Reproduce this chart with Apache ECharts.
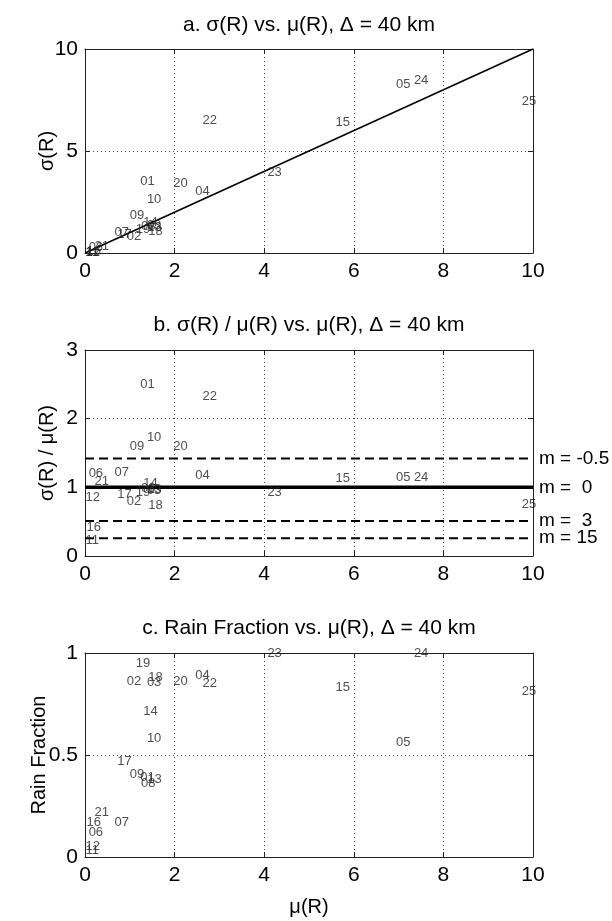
<!DOCTYPE html>
<html><head><meta charset="utf-8">
<script src="https://cdn.jsdelivr.net/npm/echarts@6/dist/echarts.min.js"></script>
<style>html,body{margin:0;padding:0;background:#fff}#c{width:612px;height:921px}</style>
</head><body><div id="c"></div>
<script>
// ---- data ----
const caseIds = ['01','02','03','04','05','06','07','08','09','10','11','12','13','14','15','16','17','18','19','20','21','22','23','24','25'];
const mu = [1.22, 0.92, 1.37, 2.45, 6.93, 0.07, 0.65, 1.24, 0.99, 1.37, 0.00, 0.00, 1.38, 1.29, 5.58, 0.02, 0.71, 1.40, 1.12, 1.96, 0.20, 2.61, 4.06, 7.33, 9.74];
const sigma = [3.52, 0.82, 1.35, 3.00, 8.27, 0.25, 1.03, 1.30, 1.82, 2.62, 0.02, 0.05, 1.25, 1.50, 6.42, 0.10, 0.90, 1.07, 1.15, 3.41, 0.30, 6.48, 3.93, 8.48, 7.41];
const sigmaOverMu = [2.50, 0.79, 0.95, 1.17, 1.14, 1.20, 1.22, 0.98, 1.60, 1.73, 0.22, 0.85, 0.97, 1.05, 1.13, 0.42, 0.90, 0.74, 0.93, 1.60, 1.08, 2.33, 0.92, 1.14, 0.75];
const rainFraction = [0.39, 0.86, 0.855, 0.89, 0.56, 0.12, 0.17, 0.36, 0.405, 0.58, 0.03, 0.05, 0.38, 0.715, 0.83, 0.17, 0.47, 0.88, 0.95, 0.86, 0.22, 0.85, 1.00, 1.00, 0.81];
const refLineX = [0, 10];               // sigma = mu reference line
const mLabels = ['m = -0.5', 'm =  0', 'm =  3', 'm = 15'];
const mRatios = [1.42, 1.00, 0.51, 0.26];
const titles = ['a. σ(R) vs. μ(R), Δ = 40 km', 'b. σ(R) / μ(R) vs. μ(R), Δ = 40 km', 'c. Rain Fraction vs. μ(R), Δ = 40 km'];
const yNames = ['σ(R)', 'σ(R) / μ(R)', 'Rain Fraction'];
const yRanges = [[0, 10, 5], [0, 3, 1], [0, 1, 0.5]];
const xName = 'μ(R)';

// ---- layout ----
const FONT = '"Liberation Sans", Arial, Helvetica, sans-serif';
const grids = [
  {left: 85, top: 49, width: 448, height: 204},
  {left: 85, top: 350, width: 448, height: 206},
  {left: 85, top: 653, width: 448, height: 204}
];
const titleY = [25, 325, 628];
const yNameGap = [28, 28, 36];

const xAxes = [], yAxes = [];
grids.forEach((g, i) => {
  xAxes.push({
    gridIndex: i, type: 'value', min: 0, max: 10, interval: 2, position: 'bottom',
    axisLine: {show: true, onZero: false, lineStyle: {color: '#222', width: 1}},
    axisTick: {show: true, inside: true, length: 5, lineStyle: {color: '#222'}},
    axisLabel: {show: true, fontSize: 21, color: '#000', fontFamily: FONT, margin: 8},
    splitLine: {show: true, lineStyle: {color: '#444', type: [1, 3], width: 1}},
    name: i === 2 ? xName : '', nameLocation: 'middle', nameGap: 40, nameMoveOverlap: false,
    nameTextStyle: {fontSize: 20, color: '#000', fontFamily: FONT}
  });
  xAxes.push({
    gridIndex: i, type: 'value', min: 0, max: 10, interval: 2, position: 'top',
    axisLine: {show: true, onZero: false, lineStyle: {color: '#222', width: 1}},
    axisTick: {show: true, inside: true, length: 5, lineStyle: {color: '#222'}},
    axisLabel: {show: false}, splitLine: {show: false}
  });
  const r = yRanges[i];
  yAxes.push({
    gridIndex: i, type: 'value', min: r[0], max: r[1], interval: r[2], position: 'left',
    axisLine: {show: true, onZero: false, lineStyle: {color: '#222', width: 1}},
    axisTick: {show: true, inside: true, length: 5, lineStyle: {color: '#222'}},
    axisLabel: {show: true, fontSize: 21, color: '#000', fontFamily: FONT, margin: 7},
    splitLine: {show: true, lineStyle: {color: '#444', type: [1, 3], width: 1}},
    name: yNames[i], nameLocation: 'middle', nameRotate: 90, nameGap: yNameGap[i], nameMoveOverlap: false,
    nameTextStyle: {fontSize: 20, color: '#000', fontFamily: FONT}
  });
  yAxes.push({
    gridIndex: i, type: 'value', min: r[0], max: r[1], interval: r[2], position: 'right',
    axisLine: {show: true, onZero: false, lineStyle: {color: '#222', width: 1}},
    axisTick: {show: true, inside: true, length: 5, lineStyle: {color: '#222'}},
    axisLabel: {show: false}, splitLine: {show: false}
  });
});

function labelSeries(i, yVals) {
  return {
    type: 'scatter', xAxisIndex: 2 * i, yAxisIndex: 2 * i, symbolSize: 1, clip: false,
    itemStyle: {color: 'rgba(0,0,0,0)'}, z: 5,
    label: {show: true, position: 'right', distance: 0, formatter: '{b}', fontSize: 13, color: '#222', fontFamily: FONT},
    labelLayout: {hideOverlap: false},
    data: caseIds.map((id, k) => ({name: id, value: [mu[k], yVals[k]]}))
  };
}

const series = [];
series.push({
  type: 'line', xAxisIndex: 0, yAxisIndex: 0, symbol: 'none', silent: true,
  lineStyle: {color: '#000', width: 1.6},
  data: refLineX.map(x => [x, x])
});
series.push(labelSeries(0, sigma));
mLabels.forEach((lab, k) => {
  series.push({
    type: 'line', name: lab, xAxisIndex: 2, yAxisIndex: 2, symbol: 'none', silent: true,
    lineStyle: {color: '#000', width: mRatios[k] === 1 ? 3.5 : 2, type: mRatios[k] === 1 ? 'solid' : [9, 5]},
    endLabel: {show: true, formatter: '{a}', distance: 6, fontSize: 19, color: '#000', fontFamily: FONT},
    data: refLineX.map(x => [x, mRatios[k]])
  });
});
series.push(labelSeries(1, sigmaOverMu));
series.push(labelSeries(2, rainFraction));

const chart = echarts.init(document.getElementById('c'), null, {renderer: 'canvas'});
chart.setOption({
  animation: false,
  backgroundColor: '#fff',
  grid: grids.map(g => Object.assign({containLabel: false, outerBoundsMode: 'none'}, g)),
  xAxis: xAxes,
  yAxis: yAxes,
  graphic: titles.map((t, i) => ({
    type: 'text', x: 309, y: titleY[i],
    style: {text: t, align: 'center', verticalAlign: 'middle', fontSize: 21, fontFamily: FONT, fill: '#000'}
  })),
  series: series
});
</script></body></html>
